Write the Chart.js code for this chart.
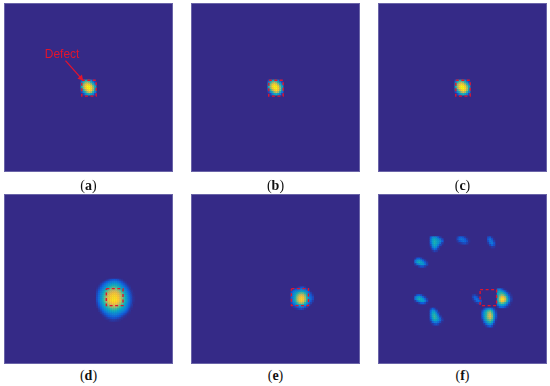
<!DOCTYPE html>
<html>
<head>
<meta charset="utf-8">
<script src="https://cdn.jsdelivr.net/npm/chart.js@4"></script>
<style>
  html, body { margin: 0; padding: 0; background: #fff; }
  body { position: relative; width: 550px; height: 386px; overflow: hidden; }
  canvas { position: absolute; filter: blur(0.5px); }
  #a { left: 4px; top: 3px; }
  #b { left: 191px; top: 3px; }
  #c { left: 378px; top: 3px; }
  #d { left: 4px; top: 194px; }
  #e { left: 191px; top: 194px; }
  #f { left: 378px; top: 194px; }
  .cap { position: absolute; width: 169px; text-align: center; font: 14px "Liberation Serif", serif; color: #111; }
</style>
</head>
<body>
<canvas id="a" width="169" height="169"></canvas>
<canvas id="b" width="169" height="169"></canvas>
<canvas id="c" width="169" height="169"></canvas>
<canvas id="d" width="169" height="170"></canvas>
<canvas id="e" width="169" height="170"></canvas>
<canvas id="f" width="169" height="170"></canvas>
<div class="cap" style="left:4px;top:178px">(<b>a</b>)</div>
<div class="cap" style="left:191px;top:178px">(<b>b</b>)</div>
<div class="cap" style="left:378px;top:178px">(<b>c</b>)</div>
<div class="cap" style="left:4px;top:368px">(<b>d</b>)</div>
<div class="cap" style="left:191px;top:368px">(<b>e</b>)</div>
<div class="cap" style="left:378px;top:368px">(<b>f</b>)</div>
<script>
// every panel is a grid of 84 x 84 cells, only cells above the background are listed
const GRID_SIZE = 84;

const panelLabels = ["a", "b", "c", "d", "e", "f"];

const blobA = [
  [.10, .30, .42, .45, .40, .25, .08, .02],
  [.28, .48, .62, .70, .62, .48, .30, .10],
  [.40, .62, .80, .90, .85, .68, .48, .25],
  [.42, .68, .90, 1.0, .98, .88, .62, .40],
  [.38, .62, .86, .98, 1.0, .92, .68, .42],
  [.24, .48, .68, .88, .96, .88, .64, .38],
  [.08, .28, .48, .66, .78, .68, .48, .22],
  [.02, .08, .24, .40, .46, .38, .24, .08]
];
const blobB = [
  [.08, .28, .40, .44, .38, .22, .07, .02],
  [.26, .46, .62, .72, .62, .46, .28, .09],
  [.38, .62, .82, .92, .85, .66, .46, .24],
  [.42, .68, .92, 1.0, .97, .86, .60, .38],
  [.36, .62, .86, .97, 1.0, .90, .66, .40],
  [.22, .46, .68, .87, .95, .86, .62, .36],
  [.07, .26, .46, .64, .76, .66, .46, .20],
  [.02, .07, .22, .38, .44, .36, .22, .07]
];
const blobC = [
  [.10, .30, .42, .46, .40, .26, .08, .02],
  [.28, .48, .64, .72, .64, .48, .30, .10],
  [.40, .64, .82, .90, .86, .68, .48, .26],
  [.42, .68, .90, 1.0, .98, .88, .62, .40],
  [.38, .64, .88, .98, 1.0, .92, .68, .42],
  [.24, .48, .70, .88, .96, .88, .64, .38],
  [.08, .28, .48, .66, .78, .68, .48, .22],
  [.02, .08, .24, .40, .46, .38, .24, .08]
];
const blobD = [
  [0, 0, 0, 0, 0, .02, .05, .09, .11, .12, .11, .09, .05, .02, 0, 0, 0, 0, 0, 0],
  [0, 0, 0, .02, .06, .11, .16, .20, .23, .24, .23, .19, .14, .09, .04, .01, 0, 0, 0, 0],
  [0, 0, .03, .08, .14, .20, .26, .30, .33, .34, .33, .29, .23, .16, .10, .05, .01, 0, 0, 0],
  [0, .02, .07, .14, .21, .28, .35, .40, .44, .45, .43, .39, .32, .24, .17, .10, .04, .01, 0, 0],
  [.01, .05, .12, .20, .28, .37, .45, .51, .55, .56, .54, .49, .42, .33, .24, .16, .09, .03, 0, 0],
  [.03, .09, .17, .26, .36, .46, .55, .62, .66, .68, .66, .60, .52, .42, .32, .23, .14, .06, .01, 0],
  [.05, .13, .22, .32, .43, .55, .65, .72, .76, .78, .76, .70, .62, .51, .40, .29, .19, .10, .03, 0],
  [.07, .16, .26, .37, .50, .62, .72, .80, .84, .86, .84, .78, .70, .59, .46, .34, .23, .13, .05, .01],
  [.08, .18, .29, .41, .54, .68, .78, .86, .90, .91, .89, .84, .75, .64, .50, .38, .26, .15, .07, .01],
  [.09, .19, .30, .43, .57, .70, .81, .89, .92, .93, .92, .87, .78, .66, .53, .40, .28, .17, .08, .02],
  [.09, .19, .30, .43, .57, .71, .82, .90, .93, .94, .93, .88, .79, .67, .54, .41, .29, .18, .08, .02],
  [.08, .18, .29, .42, .55, .69, .80, .88, .92, .93, .91, .86, .77, .65, .52, .39, .28, .17, .08, .02],
  [.06, .15, .26, .38, .50, .63, .74, .82, .87, .88, .86, .80, .71, .60, .48, .36, .25, .15, .07, .01],
  [.04, .12, .22, .33, .44, .55, .65, .73, .78, .80, .77, .71, .63, .53, .43, .32, .22, .13, .05, 0],
  [.02, .09, .17, .27, .37, .46, .55, .62, .67, .68, .66, .60, .53, .45, .37, .28, .19, .10, .03, 0],
  [0, .05, .12, .21, .30, .38, .45, .51, .55, .56, .54, .49, .43, .37, .31, .24, .15, .06, .01, 0],
  [0, .02, .07, .15, .23, .30, .36, .41, .44, .45, .43, .39, .34, .30, .25, .18, .10, .03, 0, 0],
  [0, 0, .03, .09, .16, .22, .27, .31, .34, .35, .33, .30, .26, .22, .17, .11, .05, .01, 0, 0],
  [0, 0, 0, .04, .09, .14, .19, .22, .25, .26, .25, .22, .18, .14, .09, .05, .01, 0, 0, 0],
  [0, 0, 0, .01, .04, .08, .12, .15, .17, .18, .17, .14, .11, .07, .03, .01, 0, 0, 0, 0],
  [0, 0, 0, 0, .01, .03, .06, .08, .10, .10, .09, .07, .05, .02, 0, 0, 0, 0, 0, 0],
  [0, 0, 0, 0, 0, 0, .01, .03, .04, .04, .03, .02, .01, 0, 0, 0, 0, 0, 0, 0]
];
const blobE = [
  [0, 0, 0, .02, .06, .10, .10, .04, 0, 0, 0, 0],
  [.02, .06, .12, .16, .20, .24, .22, .16, .08, .01, 0, 0],
  [.08, .20, .26, .30, .36, .40, .38, .32, .24, .12, .01, 0],
  [.14, .26, .36, .46, .56, .60, .58, .48, .32, .20, .08, .01],
  [.16, .30, .42, .58, .72, .78, .74, .60, .40, .24, .12, .04],
  [.16, .30, .46, .66, .82, .88, .85, .68, .46, .28, .16, .08],
  [.16, .30, .48, .68, .85, .91, .87, .70, .48, .28, .18, .08],
  [.14, .28, .44, .64, .80, .87, .82, .64, .42, .24, .12, .04],
  [.08, .22, .34, .52, .66, .72, .66, .50, .34, .18, .06, 0],
  [.01, .12, .22, .34, .42, .46, .44, .34, .22, .08, 0, 0],
  [0, .03, .08, .14, .20, .24, .22, .14, .05, 0, 0, 0],
  [0, 0, .01, .03, .06, .08, .06, .02, 0, 0, 0, 0]
];
const blobF1 = [
  [.12, .28, .30, .26, .14, .05, 0],
  [.18, .36, .42, .36, .30, .20, .08],
  [.18, .38, .46, .40, .34, .28, .14],
  [.14, .36, .46, .40, .32, .20, .05],
  [.08, .30, .42, .36, .22, .08, 0],
  [.03, .22, .34, .26, .10, .01, 0],
  [0, .10, .20, .14, .03, 0, 0],
  [0, .02, .07, .04, 0, 0, 0]
];
const blobF2 = [
  [.05, .13, .15, .11, .05, .01, 0],
  [.08, .17, .21, .19, .13, .05, .01],
  [.03, .10, .15, .19, .16, .09, .02],
  [0, .02, .05, .08, .09, .05, 0]
];
const blobF3 = [
  [.09, .11, .03, 0],
  [.13, .21, .11, .02],
  [.09, .21, .19, .06],
  [.04, .17, .23, .11],
  [0, .07, .15, .09],
  [0, .01, .04, .03]
];
const blobF4 = [
  [.03, .12, .14, .08, .02, 0, 0],
  [.20, .32, .36, .28, .15, .05, 0],
  [.22, .38, .44, .38, .30, .15, .05],
  [.05, .20, .30, .34, .34, .22, .07],
  [0, .01, .06, .10, .10, .05, 0]
];
const blobF5 = [
  [.03, .12, .16, .10, .03, 0, 0],
  [.20, .32, .38, .30, .17, .06, 0],
  [.20, .36, .44, .40, .34, .18, .05],
  [.04, .18, .30, .36, .36, .26, .08],
  [0, .01, .06, .12, .14, .09, .02]
];
const blobF6 = [
  [.04, .07, .02, 0, 0],
  [.07, .15, .11, .03, 0],
  [.03, .13, .19, .11, .03],
  [0, .05, .15, .19, .09],
  [0, 0, .03, .07, .05]
];
const blobF7 = [
  [.05, .14, .08, .01, 0, 0, 0],
  [.14, .30, .26, .09, 0, 0, 0],
  [.18, .38, .40, .22, .05, 0, 0],
  [.20, .42, .48, .34, .14, .01, 0],
  [.18, .42, .52, .42, .24, .06, 0],
  [.14, .38, .50, .44, .32, .15, .03],
  [.08, .28, .40, .38, .30, .18, .05],
  [.02, .14, .24, .24, .18, .08, .01],
  [0, .03, .08, .10, .06, .01, 0]
];
const blobF8 = [
  [.01, .08, .18, .26, .28, .18, .06, 0],
  [.08, .24, .38, .50, .54, .40, .18, .04],
  [.14, .34, .48, .62, .68, .52, .26, .07],
  [.16, .36, .50, .68, .78, .60, .32, .10],
  [.14, .36, .52, .70, .80, .64, .34, .10],
  [.10, .32, .50, .64, .74, .60, .32, .07],
  [.04, .24, .42, .54, .60, .50, .24, .03],
  [.01, .14, .30, .42, .48, .38, .14, .01],
  [0, .04, .16, .28, .32, .22, .05, 0],
  [0, 0, .04, .10, .14, .08, .01, 0]
];
const blobF9 = [
  [.20, .24, .14, .05, .01, 0, 0, 0],
  [.34, .40, .36, .26, .12, .03, 0, 0],
  [.38, .48, .52, .46, .32, .14, .04, 0],
  [.40, .56, .66, .62, .48, .28, .10, .02],
  [.42, .66, .84, .84, .66, .40, .18, .04],
  [.42, .72, .94, .93, .76, .46, .22, .06],
  [.40, .66, .86, .84, .66, .42, .20, .04],
  [.34, .50, .62, .58, .46, .28, .10, .01],
  [.20, .34, .40, .38, .28, .14, .03, 0],
  [.04, .14, .18, .16, .09, .03, 0, 0]
];

// [first column, first row] of each blob on the grid
const originsA = [[38, 38]];
const originsB = [[38, 38]];
const originsC = [[38, 38]];
const originsD = [[46, 42]];
const originsE = [[50, 46]];
const originsF = [[25, 20], [39, 20], [55, 20], [17, 31], [17, 50], [47, 50], [25, 57], [52, 57], [60, 47]];

// defect box as [left, top, right, bottom] in grid units
const boxA = [38.5, 38.2, 46, 46.5];
const boxB = [38.5, 38.2, 46, 46.5];
const boxC = [38.5, 38.2, 46, 46.5];
const boxD = [51.3, 47, 60, 55.8];
const boxE = [50.3, 47, 59.2, 55.8];
const boxF = [51.2, 47.5, 59.8, 55.8];

const arrowX = [30, 38];
const arrowY = [28, 37];
const labelText = "Defect";
const labelPos = [28.2, 25];

const PARULA = [
  [53, 42, 135], [15, 92, 221], [20, 129, 214], [6, 164, 202], [46, 183, 164],
  [135, 191, 119], [209, 187, 89], [254, 200, 50], [249, 251, 14]
];

function cellColor(v) {
  const t = Math.min(Math.max(v, 0), 1) * (PARULA.length - 1);
  const i = Math.min(Math.floor(t), PARULA.length - 2);
  const f = t - i;
  const c = PARULA[i].map((n, k) => Math.round(n + (PARULA[i + 1][k] - n) * f));
  return `rgb(${c[0]},${c[1]},${c[2]})`;
}

function buildCells(blobs, origins) {
  const cells = [];
  blobs.forEach((rows, b) => {
    rows.forEach((row, r) => {
      row.forEach((v, c) => {
        if (v > 0) {
          cells.push({ x: origins[b][0] + c + 0.5, y: origins[b][1] + r + 0.5, v });
        }
      });
    });
  });
  return cells;
}

function boxPoints(box) {
  return [
    { x: box[0], y: box[1] }, { x: box[2], y: box[1] },
    { x: box[2], y: box[3] }, { x: box[0], y: box[3] }, { x: box[0], y: box[1] }
  ];
}

// panel background and thin lighter frame
const framePlugin = {
  id: "frame",
  beforeDatasetsDraw(chart) {
    const { ctx, width, height } = chart;
    ctx.save();
    ctx.fillStyle = "#352a87";
    ctx.fillRect(0, 0, width, height);
    ctx.restore();
  },
  afterDatasetsDraw(chart) {
    const { ctx, width, height } = chart;
    ctx.save();
    ctx.strokeStyle = "#6a64a8";
    ctx.lineWidth = 1;
    ctx.strokeRect(0.5, 0.5, width - 1, height - 1);
    ctx.restore();
  }
};

const defectLabelPlugin = {
  id: "defectLabel",
  afterDatasetsDraw(chart) {
    const { ctx, scales } = chart;
    ctx.save();
    ctx.fillStyle = "#e2142d";
    ctx.font = '12px "Liberation Sans", sans-serif';
    ctx.textAlign = "center";
    ctx.textBaseline = "middle";
    ctx.fillText(labelText, scales.x.getPixelForValue(labelPos[0]), scales.y.getPixelForValue(labelPos[1]));
    ctx.restore();
  }
};

function drawPanel(id, blobs, origins, box, withArrow) {
  const datasets = [
    {
      type: "line",
      data: boxPoints(box),
      borderColor: "#e2142d",
      borderWidth: 1.4,
      borderDash: [3, 2.5],
      pointRadius: 0,
      tension: 0,
      order: 1
    },
    {
      data: buildCells(blobs, origins),
      pointStyle: "rect",
      pointBorderWidth: 0,
      pointRadius: (ctx) => (ctx.chart.width / GRID_SIZE) * 0.82,
      pointBackgroundColor: (ctx) => cellColor(ctx.raw ? ctx.raw.v : 0),
      order: 2
    }
  ];

  if (withArrow) {
    datasets.unshift({
      type: "line",
      data: arrowX.map((x, i) => ({ x, y: arrowY[i] })),
      borderColor: "#e2142d",
      borderWidth: 1.3,
      pointStyle: "triangle",
      pointRadius: [0, 3.5],
      pointRotation: 138,
      pointBackgroundColor: "#e2142d",
      pointBorderWidth: 0,
      tension: 0,
      order: 0
    });
  }

  new Chart(document.getElementById(id), {
    type: "scatter",
    data: { datasets },
    options: {
      responsive: false,
      animation: false,
      layout: { padding: 0 },
      clip: false,
      scales: {
        x: { type: "linear", min: 0, max: GRID_SIZE, display: false },
        y: { type: "linear", min: 0, max: GRID_SIZE, reverse: true, display: false }
      },
      plugins: { legend: { display: false }, tooltip: { enabled: false } }
    },
    plugins: withArrow ? [framePlugin, defectLabelPlugin] : [framePlugin]
  });
}

drawPanel(panelLabels[0], [blobA], originsA, boxA, true);
drawPanel(panelLabels[1], [blobB], originsB, boxB, false);
drawPanel(panelLabels[2], [blobC], originsC, boxC, false);
drawPanel(panelLabels[3], [blobD], originsD, boxD, false);
drawPanel(panelLabels[4], [blobE], originsE, boxE, false);
drawPanel(panelLabels[5], [blobF1, blobF2, blobF3, blobF4, blobF5, blobF6, blobF7, blobF8, blobF9], originsF, boxF, false);
</script>
</body>
</html>
